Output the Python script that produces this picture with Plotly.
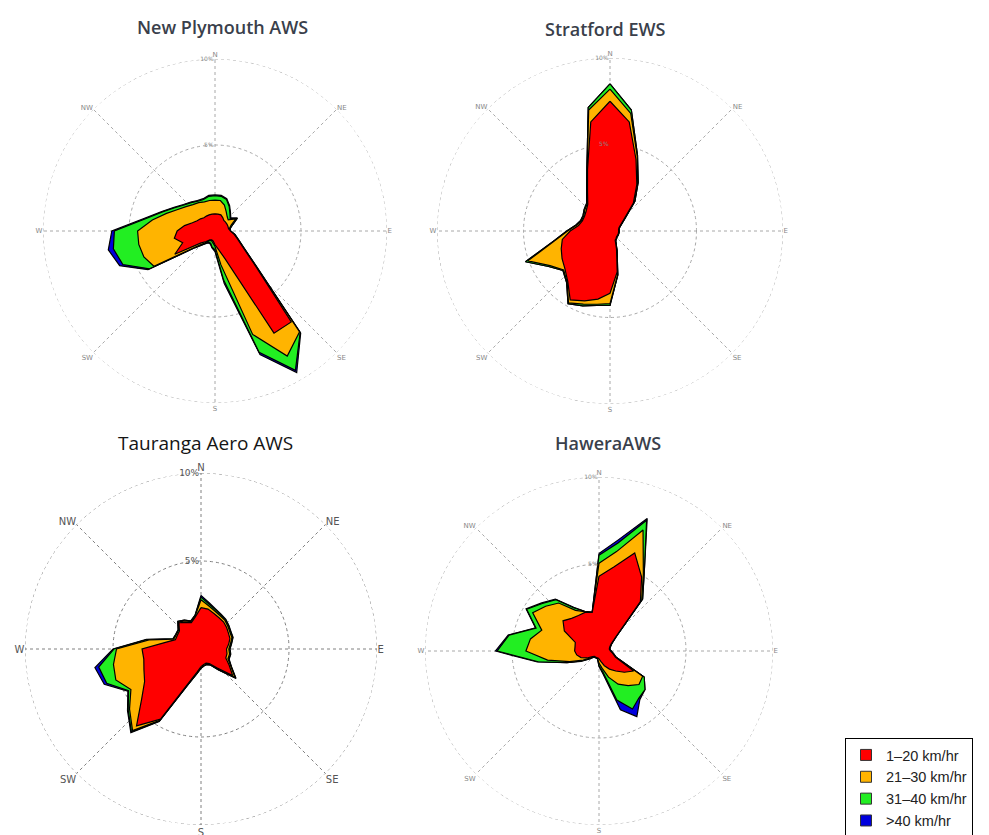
import plotly.graph_objects as go

W, H = 989, 835

# Wind direction bins (degrees, 10-degree sectors)
DIRS = list(range(0, 360, 10))
COMPASS_VALS = [0, 45, 90, 135, 180, 225, 270, 315]
COMPASS_TEXT = ["N", "NE", "E", "SE", "S", "SW", "W", "NW"]
RADIAL_VALS = [5, 10]
RADIAL_TEXT = ["5%", "10%"]

BANDS = ["1–20 km/hr", "21–30 km/hr", "31–40 km/hr", ">40 km/hr"]
BAND_COLORS = ["#ff0000", "#ffb400", "#22ee22", "#0000dd"]

# Cumulative frequency (%) of winds up to each speed band, per direction
# ---- New Plymouth AWS
np_le20 = [1.0, 1.0, 1.0, 0.9, 0.8, 0.8, 0.8, 0.8, 0.8, 0.9, 1.13, 1.4, 1.86, 2.96, 6.9, 6.86, 1.72, 1.07,
           0.8, 0.6, 0.55, 0.6, 0.8, 1.1, 2.7, 2.0, 2.4, 2.2, 1.8, 1.4, 1.2, 1.1, 1.0, 1.0, 1.0, 1.0]
np_le30 = [1.8, 1.8, 1.6, 1.3, 1.1, 1.0, 1.4, 1.0, 0.85, 0.9, 1.15, 1.42, 1.9, 3.0, 7.65, 8.4, 6.4, 2.0,
           0.9, 0.7, 0.6, 0.65, 0.9, 1.4, 4.1, 4.4, 4.5, 4.5, 3.7, 3.0, 2.5, 2.2, 2.0, 1.9, 1.8, 1.8]
np_le40 = [2.05, 2.05, 1.95, 1.65, 1.35, 1.15, 1.5, 1.1, 0.9, 0.9, 1.17, 1.45, 1.92, 3.05, 7.7, 9.35, 7.5, 2.9,
           1.1, 0.95, 0.75, 0.75, 1.0, 1.5, 4.4, 5.7, 6.0, 5.85, 4.1, 3.25, 2.7, 2.35, 2.15, 2.0, 1.95, 2.05]
np_all = [2.1, 2.1, 2.0, 1.7, 1.4, 1.2, 1.5, 1.1, 0.9, 0.9, 1.18, 1.45, 1.93, 3.07, 7.75, 9.5, 7.65, 3.1,
          1.2, 1.0, 0.8, 0.8, 1.0, 1.5, 4.5, 5.9, 6.3, 6.0, 4.2, 3.3, 2.75, 2.4, 2.2, 2.05, 2.0, 2.1]

# ---- Stratford EWS
st_le20 = [7.5, 6.4, 4.4, 3.1, 2.1, 1.05, 0.7, 0.55, 0.5, 0.5, 0.5, 0.5, 0.5, 0.5, 0.55, 0.6, 1.1, 2.4,
           3.6, 4.0, 4.3, 4.6, 3.8, 3.4, 3.2, 3.0, 2.8, 2.3, 1.85, 1.7, 1.7, 1.8, 2.0, 2.6, 3.8, 6.4]
st_le30 = [8.2, 6.9, 4.6, 3.2, 2.2, 1.1, 0.75, 0.58, 0.52, 0.52, 0.52, 0.52, 0.52, 0.52, 0.58, 0.65, 1.15, 2.55,
           4.2, 4.3, 4.5, 4.8, 3.85, 3.5, 4.0, 5.05, 3.25, 2.45, 1.95, 1.75, 1.75, 1.9, 2.05, 2.65, 3.85, 7.1]
st_le40 = [8.5, 7.1, 4.65, 3.26, 2.24, 1.13, 0.76, 0.59, 0.53, 0.53, 0.53, 0.53, 0.53, 0.53, 0.59, 0.66, 1.2, 2.6,
           4.3, 4.37, 4.6, 4.85, 3.9, 3.55, 4.1, 5.2, 3.3, 2.5, 2.0, 1.8, 1.8, 1.95, 2.1, 2.7, 3.9, 7.25]
st_all = [8.5, 7.1, 4.65, 3.26, 2.24, 1.13, 0.76, 0.59, 0.53, 0.53, 0.53, 0.53, 0.53, 0.53, 0.59, 0.66, 1.2, 2.6,
          4.3, 4.37, 4.6, 4.85, 3.9, 3.55, 4.1, 5.2, 3.3, 2.5, 2.0, 1.8, 1.8, 1.95, 2.1, 2.7, 3.9, 7.25]

# ---- Tauranga Aero AWS
ta_le20 = [2.35, 2.3, 2.15, 2.05, 2.0, 1.9, 1.8, 1.75, 1.6, 1.45, 1.5, 1.5, 1.85, 2.35, 1.4, 0.95, 0.85, 0.9,
           1.0, 1.35, 2.05, 4.6, 5.7, 4.4, 3.7, 3.45, 3.3, 3.35, 2.1, 1.55, 1.55, 1.6, 1.95, 1.75, 1.6, 1.85]
ta_le30 = [2.8, 2.5, 2.3, 2.18, 2.12, 2.0, 1.9, 1.87, 1.7, 1.58, 1.65, 1.63, 1.95, 2.52, 1.5, 1.02, 0.92, 0.95,
           1.07, 1.42, 2.12, 4.68, 6.05, 5.3, 4.6, 5.15, 5.05, 4.8, 3.0, 1.65, 1.62, 1.66, 2.0, 1.85, 1.66, 1.9]
ta_le40 = [2.95, 2.6, 2.38, 2.24, 2.17, 2.05, 1.95, 1.92, 1.75, 1.63, 1.7, 1.68, 1.98, 2.57, 1.53, 1.04, 0.94, 0.97,
           1.09, 1.44, 2.14, 4.72, 6.15, 5.4, 4.75, 5.7, 5.9, 4.95, 3.1, 1.69, 1.65, 1.69, 2.04, 1.89, 1.69, 1.94]
ta_all = [3.05, 2.67, 2.42, 2.28, 2.2, 2.07, 1.97, 1.94, 1.77, 1.65, 1.72, 1.7, 2.0, 2.6, 1.55, 1.05, 0.95, 0.98,
          1.1, 1.45, 2.15, 4.75, 6.2, 5.45, 4.8, 5.85, 6.12, 5.0, 3.15, 1.7, 1.66, 1.7, 2.05, 1.9, 1.7, 1.95]

# ---- Hawera AWS
hw_le20 = [4.3, 4.9, 6.0, 4.9, 3.7, 1.25, 0.8, 0.65, 0.6, 0.65, 0.8, 1.0, 2.3, 1.9, 1.5, 1.2, 0.9, 0.6,
           0.45, 0.4, 0.4, 0.4, 0.4, 0.5, 0.8, 1.1, 1.3, 1.4, 1.4, 1.45, 2.3, 2.7, 2.45, 2.36, 2.36, 2.25]
hw_le30 = [5.05, 5.8, 7.4, 5.1, 3.82, 1.28, 0.83, 0.68, 0.62, 0.68, 0.83, 1.02, 2.9, 3.0, 2.6, 2.2, 1.6, 1.0,
           0.7, 0.45, 0.42, 0.42, 0.43, 0.6, 1.05, 1.8, 3.0, 4.2, 4.0, 3.5, 4.4, 4.0, 3.6, 2.7, 2.4, 2.25]
hw_le40 = [5.5, 6.3, 8.0, 5.2, 3.9, 1.3, 0.85, 0.7, 0.63, 0.7, 0.85, 1.05, 3.0, 3.45, 3.55, 3.85, 3.0, 1.2,
           0.85, 0.46, 0.43, 0.43, 0.45, 0.68, 1.15, 1.95, 3.55, 5.85, 5.25, 3.85, 4.8, 4.25, 3.85, 2.85, 2.42, 2.25]
hw_all = [5.6, 6.5, 8.1, 5.2, 3.9, 1.3, 0.85, 0.7, 0.63, 0.7, 0.85, 1.05, 3.0, 3.45, 3.65, 4.35, 3.6, 1.34,
          0.9, 0.47, 0.44, 0.44, 0.46, 0.7, 1.2, 1.97, 3.6, 5.95, 5.3, 3.88, 4.84, 4.3, 3.9, 2.9, 2.42, 2.25]

STATIONS = [
    dict(name="New Plymouth AWS", series=[np_le20, np_le30, np_le40, np_all],
         cx=215, cy=231, rad=172, tx=222, ty=27, tsize=18, tweight=600, tcolor="#3a3f4b",
         grid="#a8a8a8", lab="#888888", labsize=6),
    dict(name="Stratford EWS", series=[st_le20, st_le30, st_le40, st_all],
         cx=610, cy=231, rad=173, tx=605, ty=29, tsize=18, tweight=600, tcolor="#3a3f4b",
         grid="#a8a8a8", lab="#888888", labsize=6),
    dict(name="Tauranga Aero AWS", series=[ta_le20, ta_le30, ta_le40, ta_all],
         cx=201, cy=649, rad=176, tx=205, ty=443, tsize=19, tweight=400, tcolor="#151515",
         grid="#808080", lab="#555555", labsize=9),
    dict(name="HaweraAWS", series=[hw_le20, hw_le30, hw_le40, hw_all],
         cx=599, cy=651, rad=174, tx=608, ty=443, tsize=18, tweight=600, tcolor="#3a3f4b",
         grid="#a8a8a8", lab="#888888", labsize=6),
]

RING_THETA = list(range(0, 361, 2))

fig = go.Figure()
layout_upd = {}
annotations = []
for i, st in enumerate(STATIONS):
    key = "polar" if i == 0 else f"polar{i+1}"
    # outer dotted ring at the top radial tick
    fig.add_trace(go.Scatterpolar(
        r=[RADIAL_VALS[-1]] * len(RING_THETA), theta=RING_THETA, mode="lines",
        line=dict(color=st["grid"], width=1, dash="dot"),
        showlegend=False, hoverinfo="skip", subplot=key))
    for b in [3, 2, 1, 0]:
        vals = st["series"][b]
        fig.add_trace(go.Scatterpolar(
            r=vals + [vals[0]], theta=DIRS + [DIRS[0]],
            mode="lines", fill="toself", fillcolor=BAND_COLORS[b],
            line=dict(color="black", width=1.2),
            name=BANDS[b], showlegend=False,
            subplot=key, hoverinfo="skip"))
    cx, cy, rad = st["cx"], st["cy"], st["rad"]
    layout_upd[key] = dict(
        domain=dict(x=[(cx - rad) / W, (cx + rad) / W],
                    y=[1 - (cy + rad) / H, 1 - (cy - rad) / H]),
        bgcolor="rgba(0,0,0,0)",
        angularaxis=dict(direction="clockwise", rotation=90,
                         tickmode="array", tickvals=COMPASS_VALS, ticktext=COMPASS_TEXT,
                         showgrid=True, gridcolor=st["grid"], griddash="dot", gridwidth=1,
                         showline=False, ticks="",
                         tickfont=dict(size=st["labsize"] + 1, color=st["lab"], family="DejaVu Sans")),
        radialaxis=dict(range=[0, 10], tickmode="array", tickvals=RADIAL_VALS, ticktext=RADIAL_TEXT,
                        showgrid=True, gridcolor=st["grid"], griddash="dot", gridwidth=1,
                        showline=False, ticks="", angle=90, side="counterclockwise", tickangle=90,
                        tickfont=dict(size=st["labsize"], color=st["lab"], family="DejaVu Sans")),
    )
    annotations.append(dict(text=st["name"], x=st["tx"] / W, y=1 - st["ty"] / H,
                            xref="paper", yref="paper", xanchor="center", yanchor="middle",
                            showarrow=False,
                            font=dict(size=st["tsize"], color=st["tcolor"], family="Open Sans",
                                      weight=st["tweight"])))

# legend entries (square swatches)
for b in range(4):
    fig.add_trace(go.Scatterpolar(
        r=[None], theta=[None], mode="markers", name=BANDS[b],
        marker=dict(symbol="square", size=11, color=BAND_COLORS[b],
                    line=dict(color="#333", width=1)),
        showlegend=True, subplot="polar", hoverinfo="skip"))

fig.update_layout(
    width=W, height=H, margin=dict(l=0, r=0, t=0, b=0, autoexpand=False),
    paper_bgcolor="white", plot_bgcolor="white",
    annotations=annotations,
    legend=dict(x=845 / W, y=1 - 738 / H, xanchor="left", yanchor="top",
                bordercolor="black", borderwidth=1, bgcolor="white",
                font=dict(size=14.5, color="#222", family="Liberation Sans"),
                itemwidth=30),
    **layout_upd,
)

fig.write_html("out.html", config={"displayModeBar": False},
               post_script="document.body.style.margin='0px';")
